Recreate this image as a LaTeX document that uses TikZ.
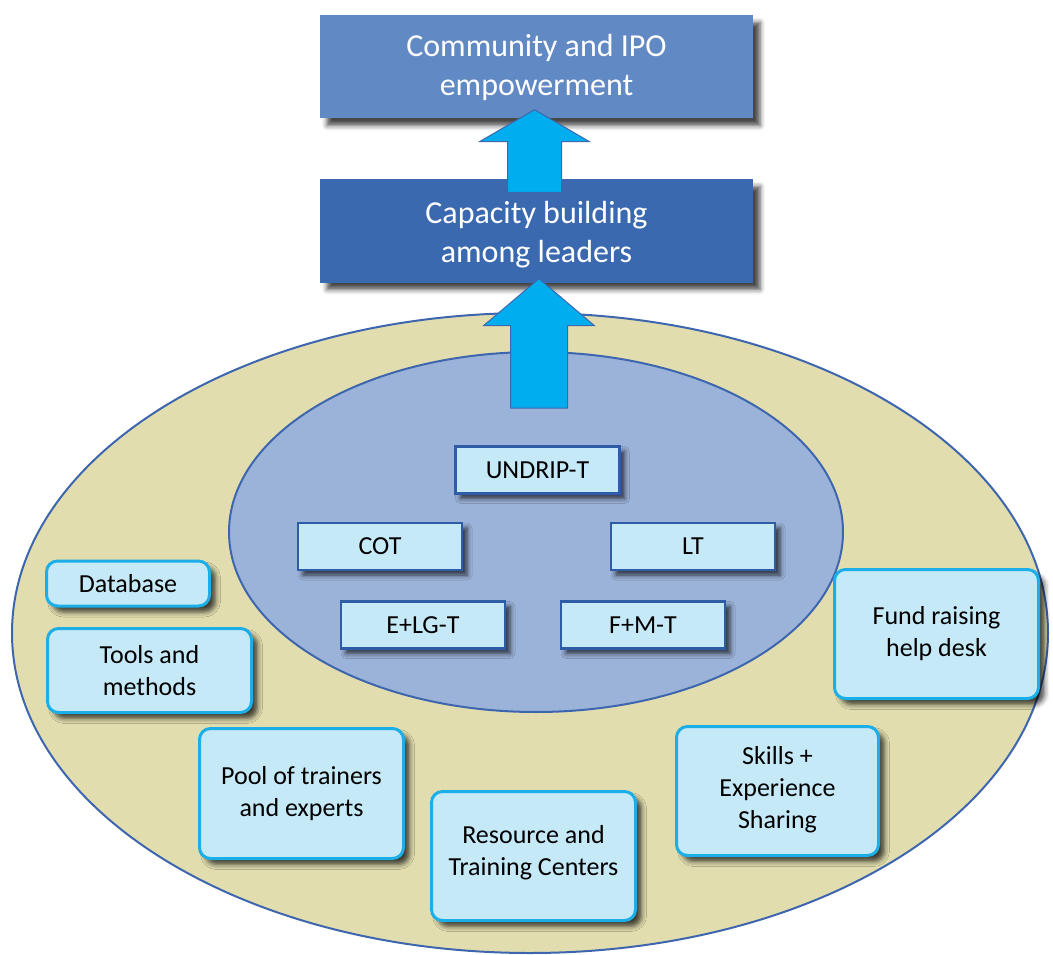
\documentclass[tikz,border=0pt]{standalone}
\usepackage{fontspec}
\setmainfont{Carlito}
\usepackage{xcolor}
\usetikzlibrary{calc,shadows.blur}
\definecolor{goalblue}{HTML}{6189C3}
\definecolor{capblue}{HTML}{3A69B0}
\definecolor{arrowcyan}{HTML}{00AEEF}
\definecolor{rimblue}{HTML}{3D66AE}
\definecolor{khaki}{HTML}{E1DDAF}
\definecolor{coreblue}{HTML}{9CB3D9}
\definecolor{paleblue}{HTML}{C6E9F8}
\definecolor{edgecyan}{HTML}{1CAEE6}
\definecolor{edgeblue}{HTML}{2E5CA7}

\tikzset{
  softshadow/.style={blur shadow={shadow xshift=#1, shadow yshift=-#1, shadow blur radius=5pt, shadow opacity=72}},
  headbox/.style={fill=#1, text=white, align=center, minimum width=433pt, minimum height=103pt,
    font=\fontsize{32}{39}\selectfont, softshadow=7pt},
  tbox/.style={draw=edgeblue, line width=2.5pt, fill=paleblue, minimum width=164pt, minimum height=47pt,
    font=\fontsize{26}{32}\selectfont, softshadow=5pt},
  rbox/.style={draw=edgecyan, line width=3pt, fill=paleblue, rounded corners=11pt, align=center,
    minimum width=204pt, font=\fontsize{26}{32}\selectfont, softshadow=6pt},
  bigarrow/.style={fill=arrowcyan, draw=rimblue, line width=1pt, line join=miter},
}

\begin{document}
\begin{tikzpicture}[x=1pt,y=1pt]
\useasboundingbox (0,0) rectangle (1053,-955);

% the two rings
\draw[rimblue, line width=2pt, fill=khaki] (530,-633) ellipse [x radius=518, y radius=320];
\draw[rimblue, line width=2pt, fill=coreblue] (536,-532) ellipse [x radius=307, y radius=180];
\coordinate (coretop) at (539,-352);

% trainings in the core
\node[tbox] (undrip) at (537.5,-470) {UNDRIP-T};
\node[tbox] (cot) at (380,-546.5) {COT};
\node[tbox] (lt) at (693,-546.5) {LT};
\node[tbox] (elg) at (423,-625) {E+LG-T};
\node[tbox] (fm) at (643,-625) {F+M-T};

% support around it
\node[rbox, minimum width=163pt, minimum height=45pt] (db) at (128,-583.5) {Database};
\node[rbox, minimum height=84pt] (tools) at (149.5,-670.5) {Tools and\\methods};
\node[rbox, minimum height=130pt] (pool) at (301.5,-793.5) {Pool of trainers\\and experts};
\node[rbox, minimum height=129pt] (rtc) at (533.5,-856) {Resource and\\Training Centers\rule[-12pt]{0pt}{0pt}};
\node[rbox, minimum width=202pt, minimum height=129pt] (skills) at (777.5,-791) {Skills +\\Experience\\Sharing\rule[-8pt]{0pt}{0pt}};
\node[rbox, minimum height=129pt] (fund) at (936.5,-634) {Fund raising\\help desk};

% outcomes
\node[headbox=goalblue] (goal) at (536.5,-67) {Community and IPO\\empowerment};
\node[headbox=capblue] (cap) at (536.5,-231) {\rule{0pt}{30pt}Capacity building\\among leaders};

% block arrows
\coordinate (a1) at ($(cap.north)+(-2,-13)$);
\coordinate (t1) at ($(goal.south -| a1)+(0,9)$);
\draw[bigarrow] ($(a1)+(-27,0)$) -- ($(a1)+(27,0)$) -- ($(t1)+(27,-32)$) -- ($(t1)+(55,-32)$)
  -- (t1) -- ($(t1)+(-55,-32)$) -- ($(t1)+(-27,-32)$) -- cycle;
\coordinate (a2) at ($(coretop)+(0,-56)$);
\coordinate (t2) at ($(cap.south -| a2)+(0,4)$);
\draw[bigarrow] ($(a2)+(-28.5,0)$) -- ($(a2)+(28.5,0)$) -- ($(t2)+(28.5,-47)$) -- ($(t2)+(55.5,-47)$)
  -- (t2) -- ($(t2)+(-55.5,-47)$) -- ($(t2)+(-28.5,-47)$) -- cycle;
\end{tikzpicture}
\end{document}
